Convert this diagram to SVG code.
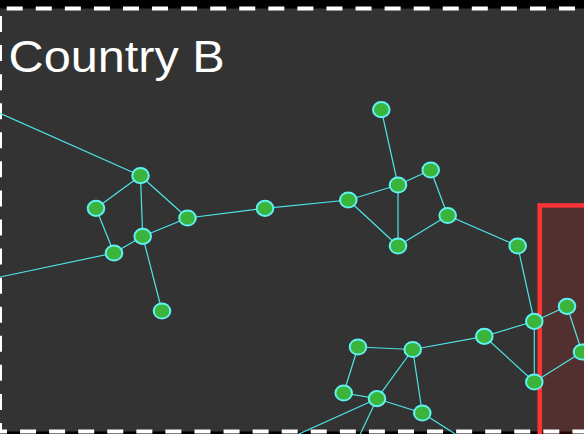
<svg xmlns="http://www.w3.org/2000/svg" width="584" height="434" viewBox="0 0 584 434">
<style>
.edge{stroke:#4fe6e6;stroke-width:1.2;fill:none}
.node ellipse{fill:#3bb43b;stroke:#5ff2f2;stroke-width:2}
.border{stroke:#ffffff;stroke-width:4;stroke-dasharray:16 13.07;fill:none}
.label{font-family:"Liberation Sans",Arial,sans-serif;font-size:45px;fill:#ffffff}
</style>
<rect x="0" y="0" width="584" height="434" fill="#000000"/>
<rect id="country-b" x="0" y="8.5" width="600" height="423" fill="#333333"/>
<rect id="red-zone" x="539.7" y="205.4" width="80" height="260" fill="rgba(255,40,40,0.16)" stroke="#ff3333" stroke-width="4.5"/>
<g id="border">
<line class="border" x1="6.7" y1="8.5" x2="600" y2="8.5"/>
<line class="border" x1="0" y1="16" x2="0" y2="432"/>
<line class="border" x1="-9" y1="431.5" x2="600" y2="431.5"/>
</g>
<text class="label" transform="translate(8.6,71.7) scale(1.08,1)">Country B</text>
<g id="connectors">
<line class="edge" x1="0" y1="113.3" x2="140.5" y2="175.7"/>
<line class="edge" x1="140.5" y1="175.7" x2="96" y2="208.3"/>
<line class="edge" x1="140.5" y1="175.7" x2="187.5" y2="218"/>
<line class="edge" x1="140.5" y1="175.7" x2="142.7" y2="236.3"/>
<line class="edge" x1="96" y1="208.3" x2="114" y2="253"/>
<line class="edge" x1="142.7" y1="236.3" x2="114" y2="253"/>
<line class="edge" x1="142.7" y1="236.3" x2="187.5" y2="218"/>
<line class="edge" x1="142.7" y1="236.3" x2="162" y2="311"/>
<line class="edge" x1="114" y1="253" x2="0" y2="277"/>
<line class="edge" x1="187.5" y1="218" x2="265" y2="208.3"/>
<line class="edge" x1="265" y1="208.3" x2="348.3" y2="200"/>
<line class="edge" x1="348.3" y1="200" x2="398" y2="185"/>
<line class="edge" x1="348.3" y1="200" x2="398" y2="246"/>
<line class="edge" x1="381.3" y1="109.7" x2="398" y2="185"/>
<line class="edge" x1="398" y1="185" x2="430.7" y2="170"/>
<line class="edge" x1="398" y1="185" x2="398" y2="246"/>
<line class="edge" x1="430.7" y1="170" x2="447.7" y2="215.5"/>
<line class="edge" x1="447.7" y1="215.5" x2="398" y2="246"/>
<line class="edge" x1="447.7" y1="215.5" x2="517.7" y2="246"/>
<line class="edge" x1="517.7" y1="246" x2="534.3" y2="321.3"/>
<line class="edge" x1="534.3" y1="321.3" x2="567" y2="306.3"/>
<line class="edge" x1="534.3" y1="321.3" x2="534.3" y2="382"/>
<line class="edge" x1="534.3" y1="321.3" x2="484.3" y2="336.3"/>
<line class="edge" x1="567" y1="306.3" x2="582" y2="352"/>
<line class="edge" x1="582" y1="352" x2="534.3" y2="382"/>
<line class="edge" x1="484.3" y1="336.3" x2="534.3" y2="382"/>
<line class="edge" x1="484.3" y1="336.3" x2="412.7" y2="349.5"/>
<line class="edge" x1="412.7" y1="349.5" x2="358" y2="347"/>
<line class="edge" x1="358" y1="347" x2="343.7" y2="393"/>
<line class="edge" x1="343.7" y1="393" x2="377" y2="398.7"/>
<line class="edge" x1="412.7" y1="349.5" x2="377" y2="398.7"/>
<line class="edge" x1="412.7" y1="349.5" x2="422.3" y2="413"/>
<line class="edge" x1="377" y1="398.7" x2="422.3" y2="413"/>
<line class="edge" x1="377" y1="398.7" x2="298.7" y2="434"/>
<line class="edge" x1="377" y1="398.7" x2="360.3" y2="434"/>
<line class="edge" x1="422.3" y1="413" x2="455.3" y2="434"/>
</g>
<g id="n1" class="node"><ellipse cx="140.5" cy="175.7" rx="8.3" ry="7.6"/></g>
<g id="n2" class="node"><ellipse cx="96" cy="208.3" rx="8.3" ry="7.6"/></g>
<g id="n3" class="node"><ellipse cx="187.5" cy="218" rx="8.3" ry="7.6"/></g>
<g id="n4" class="node"><ellipse cx="142.7" cy="236.3" rx="8.3" ry="7.6"/></g>
<g id="n5" class="node"><ellipse cx="114" cy="253" rx="8.3" ry="7.6"/></g>
<g id="n6" class="node"><ellipse cx="162" cy="311" rx="8.3" ry="7.6"/></g>
<g id="n7" class="node"><ellipse cx="265" cy="208.3" rx="8.3" ry="7.6"/></g>
<g id="n8" class="node"><ellipse cx="348.3" cy="200" rx="8.3" ry="7.6"/></g>
<g id="n9" class="node"><ellipse cx="381.3" cy="109.7" rx="8.3" ry="7.6"/></g>
<g id="n10" class="node"><ellipse cx="398" cy="185" rx="8.3" ry="7.6"/></g>
<g id="n11" class="node"><ellipse cx="430.7" cy="170" rx="8.3" ry="7.6"/></g>
<g id="n12" class="node"><ellipse cx="447.7" cy="215.5" rx="8.3" ry="7.6"/></g>
<g id="n13" class="node"><ellipse cx="398" cy="246" rx="8.3" ry="7.6"/></g>
<g id="n14" class="node"><ellipse cx="517.7" cy="246" rx="8.3" ry="7.6"/></g>
<g id="n15" class="node"><ellipse cx="534.3" cy="321.3" rx="8.3" ry="7.6"/></g>
<g id="n16" class="node"><ellipse cx="567" cy="306.3" rx="8.3" ry="7.6"/></g>
<g id="n17" class="node"><ellipse cx="582" cy="352" rx="8.3" ry="7.6"/></g>
<g id="n18" class="node"><ellipse cx="534.3" cy="382" rx="8.3" ry="7.6"/></g>
<g id="n19" class="node"><ellipse cx="484.3" cy="336.3" rx="8.3" ry="7.6"/></g>
<g id="n20" class="node"><ellipse cx="412.7" cy="349.5" rx="8.3" ry="7.6"/></g>
<g id="n21" class="node"><ellipse cx="358" cy="347" rx="8.3" ry="7.6"/></g>
<g id="n22" class="node"><ellipse cx="343.7" cy="393" rx="8.3" ry="7.6"/></g>
<g id="n23" class="node"><ellipse cx="377" cy="398.7" rx="8.3" ry="7.6"/></g>
<g id="n24" class="node"><ellipse cx="422.3" cy="413" rx="8.3" ry="7.6"/></g>
</svg>
